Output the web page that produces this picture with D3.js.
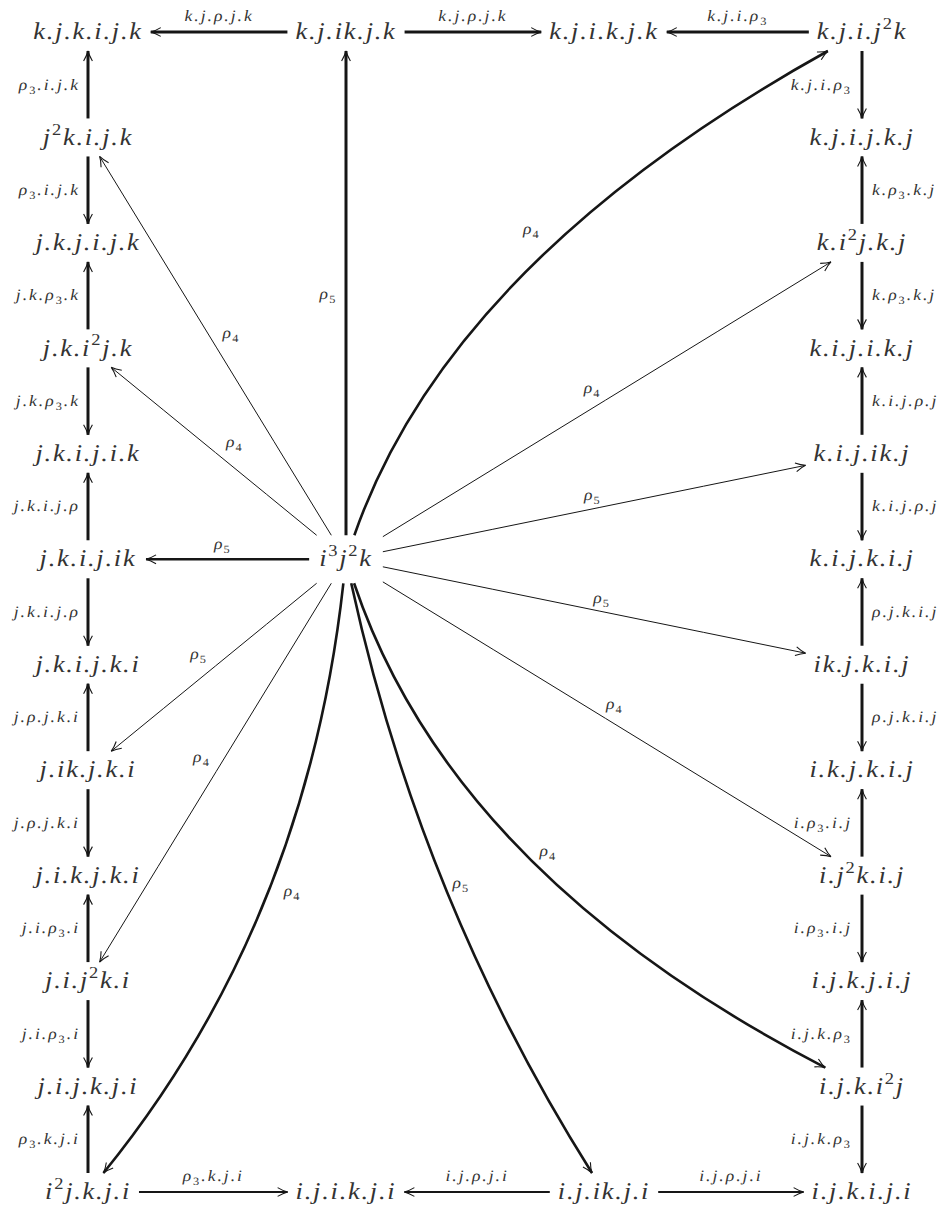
<!DOCTYPE html>
<html>
<head>
<meta charset="utf-8">
<script src="https://cdn.jsdelivr.net/npm/d3@7"></script>
<style>
  body { margin: 0; background: #fff; }
</style>
</head>
<body>
<div id="content"></div>
<script>
// ---- diagram data ----
// node names, top to bottom ("^" superscript, "_" subscript)
var leftColumn = ["k.j.k.i.j.k", "j^2k.i.j.k", "j.k.j.i.j.k", "j.k.i^2j.k", "j.k.i.j.i.k", "j.k.i.j.ik",
                  "j.k.i.j.k.i", "j.ik.j.k.i", "j.i.k.j.k.i", "j.i.j^2k.i", "j.i.j.k.j.i", "i^2j.k.j.i"];
var rightColumn = ["k.j.i.j^2k", "k.j.i.j.k.j", "k.i^2j.k.j", "k.i.j.i.k.j", "k.i.j.ik.j", "k.i.j.k.i.j",
                   "ik.j.k.i.j", "i.k.j.k.i.j", "i.j^2k.i.j", "i.j.k.j.i.j", "i.j.k.i^2j", "i.j.k.i.j.i"];
var topRow = ["k.j.ik.j.k", "k.j.i.k.j.k"];      // between the columns
var bottomRow = ["i.j.i.k.j.i", "i.j.ik.j.i"];
var hub = "i^3j^2k";

// [from row, to row, label]
var leftEdges = [[1, 0, "ρ_3.i.j.k"], [1, 2, "ρ_3.i.j.k"], [3, 2, "j.k.ρ_3.k"], [3, 4, "j.k.ρ_3.k"],
                 [5, 4, "j.k.i.j.ρ"], [5, 6, "j.k.i.j.ρ"], [7, 6, "j.ρ.j.k.i"], [7, 8, "j.ρ.j.k.i"],
                 [9, 8, "j.i.ρ_3.i"], [9, 10, "j.i.ρ_3.i"], [11, 10, "ρ_3.k.j.i"]];
var rightEdges = [[0, 1, "k.j.i.ρ_3"], [2, 1, "k.ρ_3.k.j"], [2, 3, "k.ρ_3.k.j"], [4, 3, "k.i.j.ρ.j"],
                  [4, 5, "k.i.j.ρ.j"], [6, 5, "ρ.j.k.i.j"], [6, 7, "ρ.j.k.i.j"], [8, 7, "i.ρ_3.i.j"],
                  [8, 9, "i.ρ_3.i.j"], [10, 9, "i.j.k.ρ_3"], [10, 11, "i.j.k.ρ_3"]];
// [from, to, label]
var topEdges = [["k.j.ik.j.k", "k.j.k.i.j.k", "k.j.ρ.j.k"], ["k.j.ik.j.k", "k.j.i.k.j.k", "k.j.ρ.j.k"],
                ["k.j.i.j^2k", "k.j.i.k.j.k", "k.j.i.ρ_3"]];
var bottomEdges = [["i^2j.k.j.i", "i.j.i.k.j.i", "ρ_3.k.j.i"], ["i.j.ik.j.i", "i.j.i.k.j.i", "i.j.ρ.j.i"],
                   ["i.j.ik.j.i", "i.j.k.i.j.i", "i.j.ρ.j.i"]];
// arrows leaving the hub: [target, label]
var boldSpokes = [["k.j.ik.j.k", "ρ_5"], ["j.k.i.j.ik", "ρ_5"], ["k.j.i.j^2k", "ρ_4"],
                  ["i^2j.k.j.i", "ρ_4"], ["i.j.ik.j.i", "ρ_5"], ["i.j.k.i^2j", "ρ_4"]];
var thinSpokes = [["j^2k.i.j.k", "ρ_4"], ["j.k.i^2j.k", "ρ_4"], ["j.ik.j.k.i", "ρ_5"], ["j.i.j^2k.i", "ρ_4"],
                  ["k.i^2j.k.j", "ρ_4"], ["k.i.j.ik.j", "ρ_5"], ["ik.j.k.i.j", "ρ_5"], ["i.j^2k.i.j", "ρ_4"]];

// ---- layout ----
// bend: control point as [fraction along chord, fraction across chord]; label at t, offset (signed)
var spokeLayout = {
    "k.j.ik.j.k": [0.5, 0, 0.5, 18], "j.k.i.j.ik": [0.5, 0, 0.5, -15],
    "k.j.i.j^2k": [0.387, 0.182, 0.56, 27], "i^2j.k.j.i": [0.516, 0.147, 0.47, 22],
    "i.j.ik.j.i": [0.504, -0.088, 0.5, 16], "i.j.k.i^2j": [0.406, -0.196, 0.53, 18],
    "j^2k.i.j.k": [0.5, 0, 0.51, -20], "j.k.i^2j.k": [0.5, 0, 0.47, -20],
    "j.ik.j.k.i": [0.5, 0, 0.52, -20], "j.i.j^2k.i": [0.5, 0, 0.49, -20],
    "k.i^2j.k.j": [0.5, 0, 0.49, 17], "k.i.j.ik.j": [0.5, 0, 0.49, 13],
    "ik.j.k.i.j": [0.5, 0, 0.5, 13], "i.j^2k.i.j": [0.5, 0, 0.5, 17]
};

var width = 947, height = 1211;
var sx = 1.1;             // horizontal stretch of the typeset labels
var bigSize = 24, smallSize = 16;
var serif = "'Liberation Serif', 'Times New Roman', serif";

var x = d3.scalePoint().domain([0, 1, 2, 3]).range([88, 862]);
var y = d3.scalePoint().domain(d3.range(12)).range([32, 1192]);

var svg = d3.select("#content").append("svg")
    .attr("width", width)
    .attr("height", height);

var gLines = svg.append("g").attr("fill", "none").attr("stroke", "#161616");
var gText = svg.append("g").attr("text-rendering", "geometricPrecision");

function mathLabel(parent, str, size, anchor, px, py, ls) {
    var g = parent.append("g").attr("transform", "translate(" + px + "," + py + ") scale(" + sx + ",1)");
    var t = g.append("text")
        .attr("text-anchor", anchor)
        .attr("y", size * 0.3)
        .attr("font-family", serif)
        .attr("font-style", "italic")
        .attr("fill", "#333")
        .attr("font-size", size)
        .attr("letter-spacing", ls);
    var segs = [], buf = "";
    for (var i = 0; i < str.length; i++) {
        var c = str[i];
        if (c === "^" || c === "_") {
            if (buf) segs.push({ s: buf, k: 0 });
            buf = "";
            segs.push({ s: str[i + 1], k: c === "^" ? 1 : -1 });
            i++;
        } else buf += c;
    }
    if (buf) segs.push({ s: buf, k: 0 });
    var cur = 0;
    segs.forEach(function (sg) {
        var target = sg.k === 1 ? -0.42 * size : (sg.k === -1 ? 0.25 * size : 0);
        var ts = t.append("tspan").text(sg.s).attr("dy", target - cur);
        cur = target;
        if (sg.k) ts.attr("font-size", 0.7 * size).attr("font-style", "normal");
    });
    return t;
}

// ---- nodes ----
var nodes = {};
function addNode(name, cx, cy) {
    var t = mathLabel(gText, name, bigSize, "middle", cx, cy, 1.6);
    var w = t.node().getBBox().width * sx;
    nodes[name] = { x: cx, y: cy, hw: w / 2 + 8, hh: 19 };
}
leftColumn.forEach(function (n, i) { addNode(n, x(0), y(i)); });
rightColumn.forEach(function (n, i) { addNode(n, x(3), y(i)); });
topRow.forEach(function (n, i) { addNode(n, x(i + 1), y(0)); });
bottomRow.forEach(function (n, i) { addNode(n, x(i + 1), y(11)); });
addNode(hub, x(1), y(5));
nodes[hub].hw += 2;
nodes[hub].hh = 24;

// point on a node's box in direction (ux, uy)
function clip(n, ux, uy) {
    var len = Math.hypot(ux, uy);
    ux /= len; uy /= len;
    var s = Math.min(Math.abs(ux) > 1e-6 ? n.hw / Math.abs(ux) : 1e9, Math.abs(uy) > 1e-6 ? n.hh / Math.abs(uy) : 1e9);
    return [n.x + s * ux, n.y + s * uy];
}

function arrow(a, b, bend, strokeW) {
    var A = nodes[a], B = nodes[b];
    var dx = B.x - A.x, dy = B.y - A.y;
    var c = [A.x + bend[0] * dx + bend[1] * dy, A.y + bend[0] * dy - bend[1] * dx];
    var p0 = clip(A, c[0] - A.x, c[1] - A.y);
    var p2 = clip(B, c[0] - B.x, c[1] - B.y);
    var p = d3.path();
    p.moveTo(p0[0], p0[1]);
    p.quadraticCurveTo(c[0], c[1], p2[0], p2[1]);
    gLines.append("path").attr("d", p.toString()).attr("stroke-width", strokeW);
    // open arrow head
    var ux = p2[0] - c[0], uy = p2[1] - c[1], l = Math.hypot(ux, uy);
    ux /= l; uy /= l;
    var L = 10, W = 4.4;
    var h = d3.path();
    h.moveTo(p2[0] - L * ux - W * uy, p2[1] - L * uy + W * ux);
    h.quadraticCurveTo(p2[0] - 0.45 * L * ux - 0.25 * W * uy, p2[1] - 0.45 * L * uy + 0.25 * W * ux, p2[0], p2[1]);
    h.quadraticCurveTo(p2[0] - 0.45 * L * ux + 0.25 * W * uy, p2[1] - 0.45 * L * uy - 0.25 * W * ux,
        p2[0] - L * ux + W * uy, p2[1] - L * uy - W * ux);
    gLines.append("path").attr("d", h.toString()).attr("stroke-width", 1.1);
    return { p0: p0, c: c, p2: p2 };
}

// ---- column and row arrows ----
leftEdges.forEach(function (e) {
    arrow(leftColumn[e[0]], leftColumn[e[1]], [0.5, 0], 3);
    mathLabel(gText, e[2], smallSize, "end", x(0) - 8, (y(e[0]) + y(e[1])) / 2, 1.8);
});
rightEdges.forEach(function (e) {
    arrow(rightColumn[e[0]], rightColumn[e[1]], [0.5, 0], 3);
    var outside = Math.min(e[0], e[1]) >= 1 && Math.max(e[0], e[1]) <= 7;
    mathLabel(gText, e[2], smallSize, outside ? "start" : "end", x(3) + (outside ? 10 : -10),
        (y(e[0]) + y(e[1])) / 2, 1.8);
});
topEdges.forEach(function (e) {
    var g = arrow(e[0], e[1], [0.5, 0], 2.8);
    mathLabel(gText, e[2], smallSize, "middle", (g.p0[0] + g.p2[0]) / 2, g.p0[1] - 16, 1.8);
});
bottomEdges.forEach(function (e) {
    var g = arrow(e[0], e[1], [0.5, 0], 2);
    mathLabel(gText, e[2], smallSize, "middle", (g.p0[0] + g.p2[0]) / 2, g.p0[1] - 16, 1.8);
});

// ---- spokes from the hub ----
function spoke(e, strokeW) {
    var lay = spokeLayout[e[0]];
    var g = arrow(hub, e[0], [lay[0], lay[1]], strokeW);
    var t = lay[2], mt = 1 - t;
    var px = mt * mt * g.p0[0] + 2 * mt * t * g.c[0] + t * t * g.p2[0];
    var py = mt * mt * g.p0[1] + 2 * mt * t * g.c[1] + t * t * g.p2[1];
    var tx = 2 * mt * (g.c[0] - g.p0[0]) + 2 * t * (g.p2[0] - g.c[0]);
    var ty = 2 * mt * (g.c[1] - g.p0[1]) + 2 * t * (g.p2[1] - g.c[1]);
    var l = Math.hypot(tx, ty);
    tx /= l; ty /= l;
    mathLabel(gText, e[1], smallSize, "middle", px + lay[3] * ty, py - lay[3] * tx, 1);
}
boldSpokes.forEach(function (e) { spoke(e, e[0] === "k.j.ik.j.k" ? 3 : 2.6); });
thinSpokes.forEach(function (e) { spoke(e, 1); });
</script>
</body>
</html>
